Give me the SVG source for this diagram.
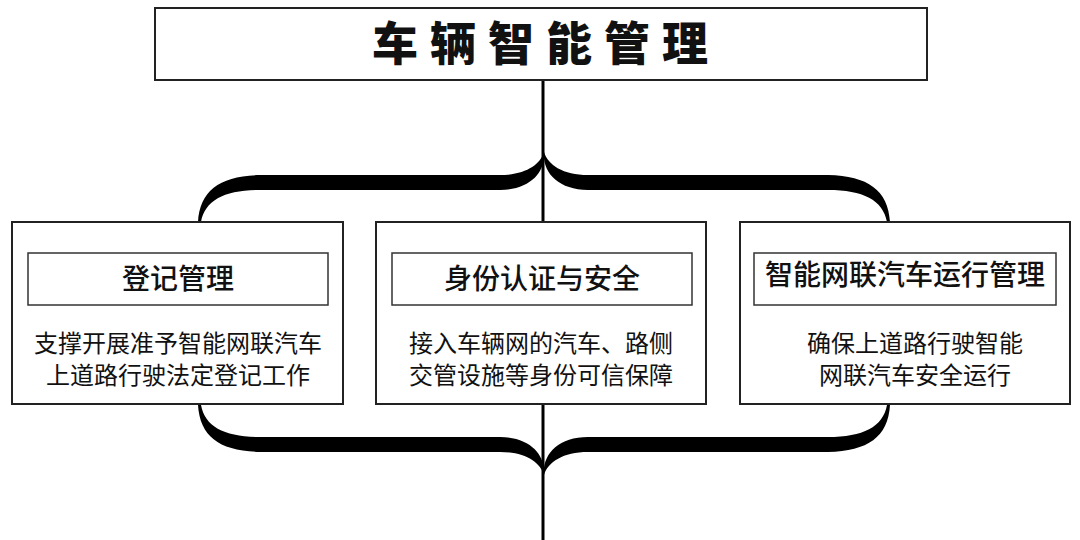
<svg xmlns="http://www.w3.org/2000/svg" width="1080" height="540" viewBox="0 0 1080 540">
<style>
.box{fill:#fff;stroke:#222;stroke-width:2}
.in{fill:#fff;stroke:#333;stroke-width:1.5}
text{font-family:"Noto Sans CJK SC","Noto Sans",sans-serif;fill:#111;text-anchor:middle}
.h{font-size:28px;font-weight:500}
.b{font-size:24px}
</style>
<defs>
<path id="half" d="M198,222 C200,190 220,176 260,175 L500,175 C525,175 540,165 544,152 C546,172 530,190 500,190 L260,190 C225,190 205,200 201,222 Z" fill="#000"/>
</defs>
<rect width="1080" height="540" fill="#fff"/>
<g id="connectors">
<line x1="543" y1="80" x2="543" y2="222" stroke="#000" stroke-width="3"/>
<line x1="543" y1="404" x2="543" y2="540" stroke="#000" stroke-width="3"/>
<use href="#half"/>
<use href="#half" transform="translate(1088,0) scale(-1,1)"/>
<use href="#half" transform="translate(0,627) scale(1,-1)"/>
<use href="#half" transform="translate(1088,627) scale(-1,-1)"/>
</g>
<g id="title">
<rect class="box" x="155" y="8" width="772" height="72"/>
<text x="546" y="60" font-size="46" font-weight="900" letter-spacing="12">车辆智能管理</text>
</g>
<g id="n1">
<rect class="box" x="12" y="222" width="331" height="182"/>
<rect class="in" x="28" y="253" width="300" height="52"/>
<text class="h" x="178" y="289">登记管理</text>
<text class="b" x="178" y="352">支撑开展准予智能网联汽车</text>
<text class="b" x="178" y="384">上道路行驶法定登记工作</text>
</g>
<g id="n2">
<rect class="box" x="376" y="222" width="330" height="182"/>
<rect class="in" x="392" y="253" width="300" height="52"/>
<text class="h" x="542" y="289">身份认证与安全</text>
<text class="b" x="541" y="352">接入车辆网的汽车、路侧</text>
<text class="b" x="541" y="384">交管设施等身份可信保障</text>
</g>
<g id="n3">
<rect class="box" x="740" y="222" width="330" height="182"/>
<rect class="in" x="754" y="253" width="302" height="52"/>
<text class="h" x="905" y="285">智能网联汽车运行管理</text>
<text class="b" x="915" y="352">确保上道路行驶智能</text>
<text class="b" x="915" y="384">网联汽车安全运行</text>
</g>
</svg>
